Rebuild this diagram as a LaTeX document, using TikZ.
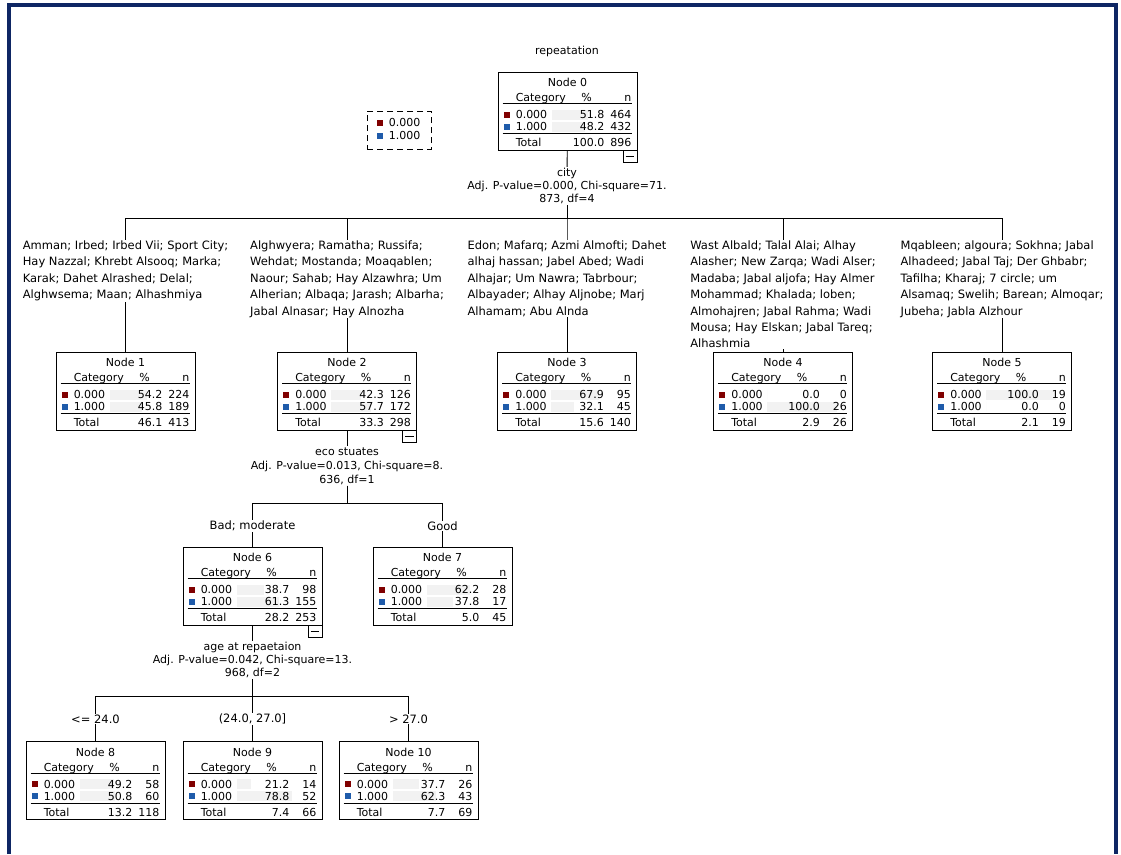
\documentclass[tikz,border=0pt]{standalone}
\usepackage{fontspec}
\setmainfont{DejaVu Sans}
\usetikzlibrary{positioning,calc}
\definecolor{cat0}{RGB}{128,0,0}
\definecolor{cat1}{RGB}{31,91,170}
\definecolor{framecol}{RGB}{14,38,100}
\newcommand{\tabfont}{\fontsize{11}{12}\selectfont}
\newcommand{\labfont}{\fontsize{11.5}{16.4}\selectfont}
\newcommand{\splitfont}{\fontsize{11}{13}\selectfont}
\tikzset{
	statbox/.style = {draw, line width=0.9pt, minimum width=139pt, minimum height=78pt, inner sep=0pt},
	cell/.style = {inner sep=0pt, font=\tabfont},
	rule/.style = {line width=0.8pt},
	bar/.style = {fill=black!5},
	split/.style = {fill=white, align=center, inner sep=1pt, font=\splitfont},
	branch/.style = {fill=white, align=left, inner sep=0.5pt, font=\labfont},
	collapse/.style = {draw, line width=0.8pt, minimum width=14pt, minimum height=12pt, inner sep=0pt, anchor=north east},
	wire/.style = {line width=0.9pt}
}
% one box of the tree: name, centre, number, then % and n of 0.000, 1.000 and Total
\newcommand{\catbox}[9]{%
	\node[statbox] (#1) at (#2) {};
	\fill[bar] ([xshift=54pt,yshift=-38pt]#1.north west) rectangle ++({0.7*#4},10);
	\fill[bar] ([xshift=54pt,yshift=-50pt]#1.north west) rectangle ++({0.7*#6},10);
	\node[cell, anchor=base] (#1-t) at ([yshift=-15pt]#1.north) {Node #3};
	\node[cell, anchor=base west] (#1-h) at ([xshift=18pt,yshift=-30pt]#1.north west) {Category};
	\node[cell, anchor=base] (#1-hp) at ([xshift=89pt,yshift=-30pt]#1.north west) {\%};
	\node[cell, anchor=base east] (#1-hn) at ([xshift=134pt,yshift=-30pt]#1.north west) {n};
	\draw[rule] ([xshift=5pt,yshift=-32pt]#1.north west) -- ++(129,0);
	\fill[cat0] ([xshift=6pt,yshift=-40pt]#1.north west) rectangle ++(6,6);
	\node[cell, anchor=base west] (#1-a) at ([xshift=18pt,yshift=-47pt]#1.north west) {0.000};
	\node[cell, anchor=base east] (#1-ap) at ([xshift=107pt,yshift=-47pt]#1.north west) {#4};
	\node[cell, anchor=base east] (#1-an) at ([xshift=134pt,yshift=-47pt]#1.north west) {#5};
	\fill[cat1] ([xshift=6pt,yshift=-52pt]#1.north west) rectangle ++(6,6);
	\node[cell, anchor=base west] (#1-b) at ([xshift=18pt,yshift=-59pt]#1.north west) {1.000};
	\node[cell, anchor=base east] (#1-bp) at ([xshift=107pt,yshift=-59pt]#1.north west) {#6};
	\node[cell, anchor=base east] (#1-bn) at ([xshift=134pt,yshift=-59pt]#1.north west) {#7};
	\draw[rule] ([xshift=5pt,yshift=-62pt]#1.north west) -- ++(129,0);
	\node[cell, anchor=base west] (#1-s) at ([xshift=18pt,yshift=-75pt]#1.north west) {Total};
	\node[cell, anchor=base east] (#1-sp) at ([xshift=107pt,yshift=-75pt]#1.north west) {#8};
	\node[cell, anchor=base east] (#1-sn) at ([xshift=134pt,yshift=-75pt]#1.north west) {#9};
}
\newcommand{\minusbox}[2]{%
	\node[collapse] (#1) at (#2.south east) {};
	\draw[rule] ([xshift=3pt]#1.west) -- ([xshift=-3pt]#1.east);
}

\begin{document}
\begin{tikzpicture}[x=1pt, y=-1pt]
	\useasboundingbox (0,0) rectangle (1121,854);
	\draw[framecol, line width=4pt] (9,854) -- (9,5) -- (1116,5) -- (1116,854);

	\node[font=\splitfont] (title) at (567,51) {repeatation};

	% legend
	\node[draw, dash pattern=on 6pt off 4pt, line width=0.8pt, minimum width=64pt, minimum height=38pt] (legend) at (399,130) {};
	\fill[cat0] ([xshift=10pt,yshift=-9pt]legend.north west) rectangle ++(6,6);
	\node[cell, anchor=base west] (leg0) at ([xshift=22pt,yshift=-15.5pt]legend.north west) {0.000};
	\fill[cat1] ([xshift=10pt,yshift=-22pt]legend.north west) rectangle ++(6,6);
	\node[cell, anchor=base west] (leg1) at ([xshift=22pt,yshift=-28.5pt]legend.north west) {1.000};

	% boxes
	\catbox{n0}{567.5,111}{0}{51.8}{464}{48.2}{432}{100.0}{896}
	\catbox{n1}{125.5,391}{1}{54.2}{224}{45.8}{189}{46.1}{413}
	\catbox{n2}{347,391}{2}{42.3}{126}{57.7}{172}{33.3}{298}
	\catbox{n3}{567,391}{3}{67.9}{95}{32.1}{45}{15.6}{140}
	\catbox{n4}{783,391}{4}{0.0}{0}{100.0}{26}{2.9}{26}
	\catbox{n5}{1002,391}{5}{100.0}{19}{0.0}{0}{2.1}{19}
	\catbox{n6}{252.5,586}{6}{38.7}{98}{61.3}{155}{28.2}{253}
	\catbox{n7}{442.5,586}{7}{62.2}{28}{37.8}{17}{5.0}{45}
	\catbox{n8}{95.5,780.5}{8}{49.2}{58}{50.8}{60}{13.2}{118}
	\catbox{n9}{252.5,780.5}{9}{21.2}{14}{78.8}{52}{7.4}{66}
	\catbox{n10}{408.5,780.5}{10}{37.7}{26}{62.3}{43}{7.7}{69}
	\minusbox{m0}{n0}
	\minusbox{m2}{n2}
	\minusbox{m6}{n6}

	% first split: city
	\node[split] (s0) at (567,186) {city\\Adj. P-value=0.000, Chi-square=71.\\873, df=4};
	\coordinate (j0) at (567,218);
	\draw[wire] (n0) -- (s0);
	\foreach \kid in {n1,n2,n3,n4,n5}
		\draw[wire] (s0) -- (j0) -| (\kid.north);
	\node[branch, anchor=north] (l1) at (125.5,240) {Amman; Irbed; Irbed Vii; Sport City;\\Hay Nazzal; Khrebt Alsooq; Marka;\\Karak; Dahet Alrashed; Delal;\\Alghwsema; Maan; Alhashmiya};
	\node[branch, anchor=north] (l2) at (347,240) {Alghwyera; Ramatha; Russifa;\\Wehdat; Mostanda; Moaqablen;\\Naour; Sahab; Hay Alzawhra; Um\\Alherian; Albaqa; Jarash; Albarha;\\Jabal Alnasar; Hay Alnozha};
	\node[branch, anchor=north] (l3) at (567,240) {Edon; Mafarq; Azmi Almofti; Dahet\\alhaj hassan; Jabel Abed; Wadi\\Alhajar; Um Nawra; Tabrbour;\\Albayader; Alhay Aljnobe; Marj\\Alhamam; Abu Alnda};
	\node[branch, anchor=north] (l4) at (783,240) {Wast Albald; Talal Alai; Alhay\\Alasher; New Zarqa; Wadi Alser;\\Madaba; Jabal aljofa; Hay Almer\\Mohammad; Khalada; loben;\\Almohajren; Jabal Rahma; Wadi\\Mousa; Hay Elskan; Jabal Tareq;\\Alhashmia};
	\node[branch, anchor=north] (l5) at (1002,240) {Mqableen; algoura; Sokhna; Jabal\\Alhadeed; Jabal Taj; Der Ghbabr;\\Tafilha; Kharaj; 7 circle; um\\Alsamaq; Swelih; Barean; Almoqar;\\Jubeha; Jabla Alzhour};

	% second split: eco stuates
	\node[split, font=\fontsize{11}{14}\selectfont] (s2) at (347,466) {eco stuates\\Adj. P-value=0.013, Chi-square=8.\\636, df=1};
	\coordinate (j2) at (347,503);
	\draw[wire] (n2) -- (s2);
	\foreach \kid in {n6,n7}
		\draw[wire] (s2) -- (j2) -| (\kid.north);
	\node[branch] (l6) at (252.5,526) {Bad; moderate};
	\node[branch] (l7) at (442.5,526) {Good};

	% third split: age
	\node[split] (s6) at (252.5,660) {age at repaetaion\\Adj. P-value=0.042, Chi-square=13.\\968, df=2};
	\coordinate (j6) at (252.5,696);
	\draw[wire] (n6) -- (s6);
	\foreach \kid in {n8,n9,n10}
		\draw[wire] (s6) -- (j6) -| (\kid.north);
	\node[branch] (l8) at (95.5,719) {<= 24.0};
	\node[branch] (l9) at (252.5,719) {(24.0, 27.0]};
	\node[branch] (l10) at (408.5,719) {> 27.0};
\end{tikzpicture}
\end{document}
